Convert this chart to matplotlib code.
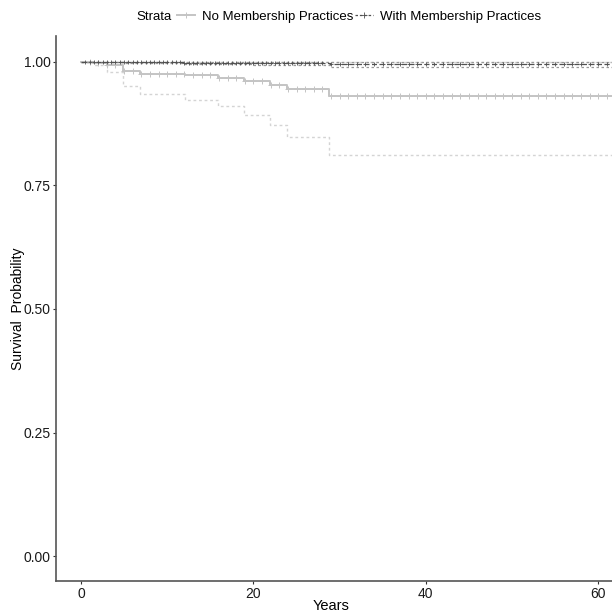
import matplotlib.pyplot as plt
from matplotlib.lines import Line2D

plt.rcParams['font.family'] = ['Liberation Sans', 'DejaVu Sans']

# Kaplan-Meier estimates, no membership practices
no_times = [0, 1.5, 3.0, 4.9, 6.9, 12.1, 15.9, 18.9, 21.9, 23.9, 28.8, 61.6]
no_surv = [1.0, 0.998, 0.994, 0.982, 0.976, 0.973, 0.967, 0.960, 0.952, 0.945, 0.931, 0.931]
no_lower = [1.0, 0.994, 0.980, 0.951, 0.935, 0.923, 0.911, 0.893, 0.872, 0.848, 0.812, 0.812]
no_upper = [1.0, 1.0, 1.0, 1.0, 1.0, 1.0, 1.0, 1.0, 1.0, 1.0, 1.0, 1.0]
no_censor = [1, 2, 3, 4, 5, 6, 7, 8, 9, 10, 11, 12, 13, 14, 15, 16, 17, 18, 19, 20,
             21, 22, 23, 24, 25, 26, 27, 28, 29, 30, 31, 32, 33, 34, 35, 36, 37, 38, 39, 40,
             41, 42, 43, 44, 45, 46, 47, 48, 49, 50, 51, 52, 53, 54, 55, 56, 57, 58, 59, 60, 61]

# Kaplan-Meier estimates, with membership practices
with_times = [0, 5.0, 12.0, 20.0, 28.9, 61.6]
with_surv = [1.0, 0.999, 0.998, 0.997, 0.996, 0.996]
with_lower = [1.0, 0.997, 0.995, 0.993, 0.990, 0.990]
with_upper = [1.0, 1.0, 1.0, 1.0, 1.0, 1.0]
with_censor = [0.5, 1, 1.5, 2, 2.5, 3, 3.5, 4, 4.5, 5, 5.5, 6, 6.5, 7, 7.5, 8, 8.5, 9, 9.5, 10,
               10.5, 11, 11.5, 12, 12.5, 13, 13.5, 14, 14.5, 15, 15.5, 16, 16.5, 17, 17.5, 18,
               18.5, 19, 19.5, 20, 20.5, 21, 21.5, 22, 22.5, 23, 23.5, 24, 24.5, 25, 25.5, 26,
               26.5, 27, 27.5, 28, 29, 30, 31, 32, 33, 34, 35, 36, 37, 38, 39, 40, 41, 42, 43,
               44, 45, 46, 47, 48, 49, 50, 51, 52, 53, 54, 55, 56, 57, 58, 59, 60, 61]

no_col = '#c4c4c4'
with_col = '#505050'


def surv_at(times, surv, t):
    # value of a right-continuous step curve at time t
    val = surv[0]
    for ti, si in zip(times, surv):
        if ti <= t:
            val = si
    return val


fig = plt.figure(figsize=(6.12, 6.14), dpi=100)
ax = fig.add_axes([56 / 612, 33 / 614, 1 - 56 / 612, 545 / 614])

# confidence bands drawn as dotted steps
ax.step(no_times, no_lower, where='post', color='#d4d4d4', lw=1.0, ls=(0, (2, 2)))
ax.step(no_times, no_upper, where='post', color='#d4d4d4', lw=1.0, ls=(0, (2, 2)))
ax.step(with_times, with_lower, where='post', color='#999999', lw=0.9, ls=(0, (2, 2)))
ax.step(with_times, with_upper, where='post', color='#999999', lw=0.9, ls=(0, (2, 2)))

# survival curves
ax.step(no_times, no_surv, where='post', color=no_col, lw=1.4)
ax.step(with_times, with_surv, where='post', color=with_col, lw=0.9, ls=(0, (4, 2)))

# censor marks
ax.plot(no_censor, [surv_at(no_times, no_surv, t) for t in no_censor], ls='none',
        marker='+', ms=4, mew=0.7, color=no_col)
ax.plot(with_censor, [surv_at(with_times, with_surv, t) for t in with_censor], ls='none',
        marker='+', ms=3.5, mew=0.6, color=with_col)

ax.set_xlim(-2.9, 61.6)
ax.set_ylim(-0.05, 1.052)
ax.set_xticks([0, 20, 40, 60])
ax.set_yticks([0, 0.25, 0.5, 0.75, 1.0])
ax.set_yticklabels(['0.00', '0.25', '0.50', '0.75', '1.00'])
ax.tick_params(labelsize=10, colors='#333333', length=2.5, width=0.8, pad=1.5,
               labelcolor='#1a1a1a')
for side in ['top', 'right']:
    ax.spines[side].set_visible(False)
for side in ['left', 'bottom']:
    ax.spines[side].set_color('#555555')
    ax.spines[side].set_linewidth(1.2)

ax.set_xlabel('Years', fontsize=10.5)
ax.set_ylabel('Survival  Probability', fontsize=10)
ax.xaxis.set_label_coords(0.495, -0.033)
ax.yaxis.set_label_coords(-0.056, 0.5)

# legend across the top
fig.text(136 / 612, 1 - 17 / 614, 'Strata', fontsize=9.5, va='center', ha='left')
handles = [
    Line2D([], [], color=no_col, lw=1.4, marker='+', ms=4, mew=0.7),
    Line2D([], [], color=with_col, lw=0.9, ls=(0, (2, 1.5)), marker='+', ms=4, mew=0.6),
]
labels = ['No Membership Practices', 'With Membership Practices']
fig.legend(handles, labels, loc='center', bbox_to_anchor=(359 / 612, 1 - 17 / 614),
           ncol=2, frameon=False, fontsize=9.5, handlelength=1.35, handletextpad=0.5,
           columnspacing=0.15, borderpad=0, borderaxespad=0)

fig.savefig('out.png', dpi=100)
